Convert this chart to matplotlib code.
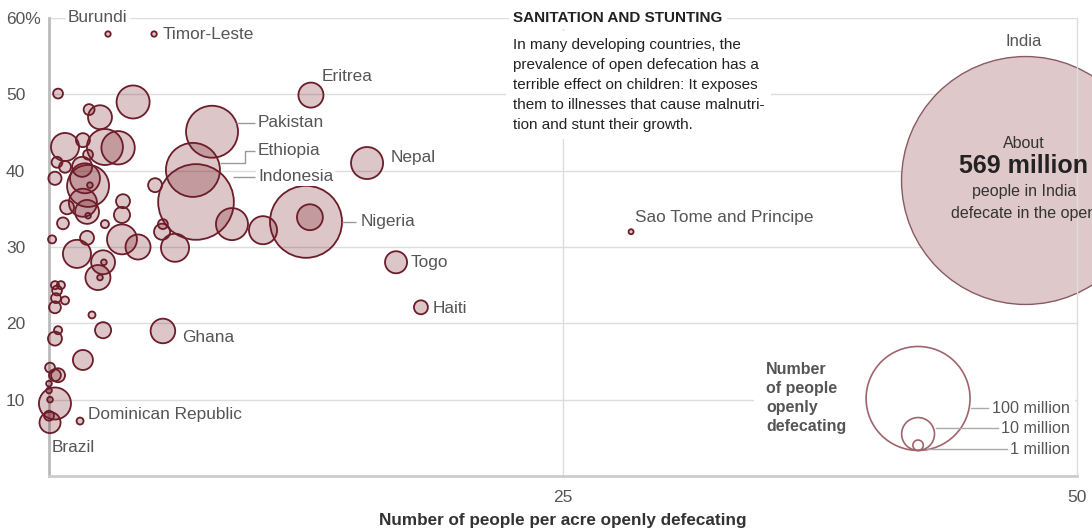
import matplotlib.pyplot as plt
from matplotlib.patches import Rectangle
import numpy as np

plt.rcParams['font.family'] = ['Liberation Sans', 'DejaVu Sans']

# x: people per acre openly defecating, y: share of children stunted (%),
# n: millions of people openly defecating (bubble area)
density = [2.87, 5.11, 12.74, 0.44, 4.09, 1.95, 2.48, 7.93, 0.78, 1.65,
           2.72, 3.36, 1.90, 0.39, 0.78, 0.29, 1.61, 1.75, 1.90, 1.99,
           5.16, 7.00, 7.15, 1.65, 3.60, 0.88, 1.85, 1.90, 0.68, 2.72,
           3.55, 0.15, 1.85, 1.36, 3.55, 4.33, 2.63, 2.67, 2.38, 2.48,
           5.54, 5.50, 6.13, 8.90, 10.41, 12.50, 12.69, 0.29, 0.58, 0.39,
           0.34, 0.78, 0.29, 2.09, 0.44, 0.29, 2.63, 5.54, 1.65, 0.05,
           0.44, 0.29, 0.0, 0.0, 0.05, 0.29, 0.0, 0.05, 1.51, 15.47,
           16.88, 28.31, 18.09]
stunting = [57.9, 57.9, 49.9, 50.1, 49.0, 48.0, 47.0, 45.1, 43.1, 44.0,
            43.1, 43.0, 42.1, 41.1, 40.5, 39.0, 40.5, 39.0, 38.0, 38.1,
            38.1, 40.1, 35.9, 35.8, 36.0, 35.2, 34.6, 34.1, 33.1, 33.0,
            34.2, 31.0, 31.2, 29.1, 31.0, 30.0, 28.0, 28.0, 26.0, 26.0,
            33.0, 32.0, 29.9, 33.0, 32.2, 33.3, 33.9, 25.0, 25.0, 24.3,
            23.3, 23.0, 22.1, 21.1, 19.1, 18.0, 19.1, 19.0, 15.2, 14.2,
            13.2, 13.2, 12.1, 11.2, 10.0, 9.5, 7.9, 7.0, 7.2, 41.0,
            28.0, 32.0, 22.1]
millions = [0.27, 0.27, 5.8, 0.9, 10.1, 1.1, 5.3, 25, 7.3, 1.8,
            12.0, 10.3, 0.9, 1.1, 1.3, 1.6, 3.7, 8.3, 16.3, 0.3,
            1.8, 27, 53, 7.3, 1.8, 1.8, 5.3, 0.3, 1.3, 0.6,
            2.4, 0.6, 1.8, 7.3, 8.3, 5.8, 5.3, 0.3, 5.8, 0.3,
            0.9, 2.4, 7.3, 9.5, 7.3, 48, 6.2, 0.6, 0.6, 0.9,
            0.9, 0.6, 1.3, 0.45, 0.6, 1.8, 2.4, 5.6, 3.7, 0.9,
            1.8, 1.3, 0.3, 0.3, 0.3, 9.5, 0.9, 4.1, 0.45, 9.5,
            4.5, 0.23, 1.8]

india_density = 47.45
india_stunting = 38.8
india_millions = 569

legend_millions = [100, 10, 1]
legend_labels = ['100 million', '10 million', '1 million']

ytick_vals = [10, 20, 30, 40, 50, 60]
ytick_labels = ['10', '20', '30', '40', '50', '60%']
xtick_vals = [25, 50]
xtick_labels = ['25', '50']

PT2_PER_MILLION = 56.0   # marker area in pt^2 for one million people

fill = (0.47, 0.11, 0.14, 0.25)
edge = '#6b1d2a'
grid_c = '#dddddd'
lab_c = '#555555'
dark_c = '#222222'

fig = plt.figure(figsize=(10.92, 5.29), dpi=100)
ax = fig.add_axes([49 / 1092, 53 / 529, 1028 / 1092, 458 / 529])
ax.set_xlim(0, 50)
ax.set_ylim(0, 60)

for v in ytick_vals:
    ax.axhline(v, color=grid_c, lw=1, zorder=0)
ax.axvline(25, color=grid_c, lw=1, zorder=0)

ax.spines['top'].set_visible(False)
ax.spines['left'].set_color('#bbbbbb')
ax.spines['left'].set_linewidth(2)
ax.spines['bottom'].set_color('#cccccc')
ax.spines['bottom'].set_linewidth(2)
ax.spines['right'].set_color(grid_c)
ax.spines['right'].set_linewidth(1)

ax.set_yticks(ytick_vals, ytick_labels)
ax.tick_params(axis='y', length=0, pad=31, labelsize=12.5, labelcolor=lab_c)
for t in ax.get_yticklabels():
    t.set_ha('left')
ax.set_xticks(xtick_vals, xtick_labels)
ax.tick_params(axis='x', length=0, pad=10, labelsize=12.5, labelcolor=lab_c)
ax.set_xlabel('Number of people per acre openly defecating', fontsize=12.3,
              fontweight='bold', color='#333333', labelpad=6)

# bubbles, largest first
sizes = np.array(millions) * PT2_PER_MILLION
order = np.argsort(sizes)[::-1]
ax.scatter(np.array(density)[order], np.array(stunting)[order], s=sizes[order],
           facecolor=fill, edgecolor=edge, linewidth=1.3, zorder=3, clip_on=False)

# India
ax.scatter([india_density], [india_stunting], s=india_millions * PT2_PER_MILLION,
           facecolor='#dfc8ca', edgecolor='#8a5a62', linewidth=1, zorder=2, clip_on=False)
ax.text(47.42, 56.9, 'India', ha='center', va='center', fontsize=12, color=lab_c)
ax.text(47.42, 43.6, 'About', ha='center', va='center', fontsize=11.5, color='#333333', zorder=5)
ax.text(47.42, 40.6, '569 million', ha='center', va='center', fontsize=18,
        fontweight='bold', color=dark_c, zorder=5)
ax.text(47.42, 37.3, 'people in India', ha='center', va='center', fontsize=11.5, color='#333333', zorder=5)
ax.text(47.42, 34.4, 'defecate in the open', ha='center', va='center', fontsize=11.5,
        color='#333333', zorder=5, clip_on=False)

# country labels
white = dict(facecolor='white', edgecolor='none', pad=1.5)
labels = [
    ('Burundi', 0.92, 60.0, white),
    ('Timor-Leste', 5.54, 57.9, None),
    ('Eritrea', 13.28, 52.4, None),
    ('Pakistan', 10.17, 46.3, None),
    ('Ethiopia', 10.17, 42.6, None),
    ('Indonesia', 10.17, 39.2, white),
    ('Nigeria', 15.18, 33.3, None),
    ('Nepal', 16.63, 41.7, None),
    ('Togo', 17.61, 28.0, None),
    ('Haiti', 18.68, 22.0, None),
    ('Sao Tome and Principe', 28.5, 33.8, None),
    ('Ghana', 6.47, 18.2, None),
    ('Dominican Republic', 1.90, 8.07, None),
    ('Brazil', 0.15, 3.74, None),
]
for name, lx, ly, bb in labels:
    ax.text(lx, ly, name, ha='left', va='center', fontsize=12.4, color=lab_c,
            bbox=bb, zorder=6)

lead = dict(color='#999999', lw=1, zorder=4, solid_capstyle='butt')
ax.plot([9.10, 10.02], [46.3, 46.3], **lead)
ax.plot([8.32, 9.53, 9.53, 10.02], [41.0, 41.0, 42.6, 42.6], **lead)
ax.plot([8.95, 10.02], [39.2, 39.2], **lead)
ax.plot([14.25, 14.93], [33.3, 33.3], **lead)

# heading and explainer
ax.text(22.57, 60.0, 'SANITATION AND STUNTING', ha='left', va='center', fontsize=11,
        fontweight='bold', color=dark_c, zorder=6,
        bbox=dict(facecolor='white', edgecolor='none', pad=3))
ax.text(22.57, 51.2,
        'In many developing countries, the\n'
        'prevalence of open defecation has a\n'
        'terrible effect on children: It exposes\n'
        'them to illnesses that cause malnutri-\n'
        'tion and stunt their growth.',
        ha='left', va='center', fontsize=11, color=dark_c, linespacing=1.56, zorder=6,
        bbox=dict(facecolor='white', edgecolor='none', pad=5))

# size legend
ax.add_patch(Rectangle((34.3, 1.8), 15.6, 16.0, facecolor='white', edgecolor='none', zorder=1))
ax.text(34.87, 10.2, 'Number\nof people\nopenly\ndefecating', ha='left', va='center',
        fontsize=11.5, fontweight='bold', color=lab_c, linespacing=1.35, zorder=6)
px_per_unit = 458 / 60
leg_x = 42.27
leg_base = 3.35
for m in legend_millions:
    r_px = np.sqrt(m * PT2_PER_MILLION) / 2 * 100 / 72
    ax.scatter([leg_x], [leg_base + r_px / px_per_unit], s=m * PT2_PER_MILLION,
               facecolor='none', edgecolor='#a0646c', linewidth=1.2, zorder=4)
leg_y = [8.86, 6.23, 3.48]
leg_line_start = [44.84, 43.14, 42.70]
leg_line_end = [45.67, 46.16, 46.6]
for lab, yy, x0, x1 in zip(legend_labels, leg_y, leg_line_start, leg_line_end):
    ax.plot([x0, x1], [yy, yy], color='#aaaaaa', lw=1, zorder=4)
    ax.text(49.66, yy, lab, ha='right', va='center', fontsize=11.6, color=lab_c, zorder=6)

fig.savefig('out.png', dpi=100)
